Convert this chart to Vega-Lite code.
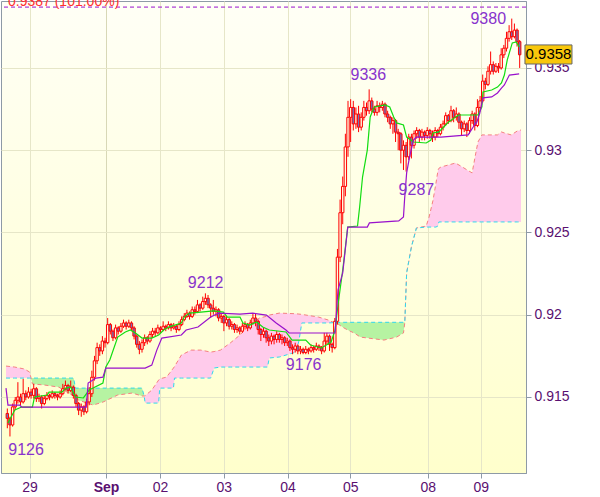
{
"$schema":"https://vega.github.io/schema/vega-lite/v6.json",
"width":525,"height":472,"autosize":"none",
"padding":{"left":1,"top":1,"right":74,"bottom":24},
"background":"#ffffff",
"config":{
"font":"Liberation Sans",
"view":{"stroke":"#8e9aa6","strokeWidth":1,"fill":{"gradient":"linear","x1":0,"y1":0,"x2":0,"y2":1,"stops":[{"offset":0,"color":"#fffff6"},{"offset":1,"color":"#ffffcc"}]}},
"axis":{"labelFont":"Liberation Sans","labelFontSize":14,"labelColor":"#5a1070","tickColor":"#8e9aa6","domainColor":"#8e9aa6","gridColor":"#e6e6c8","tickSize":5}
},
"datasets":{
"one":[{"id":1}],
"candles":[
{"t":0,"o":0.914,"h":0.9143,"l":0.9131,"c":0.9137},
{"t":1,"o":0.9137,"h":0.9138,"l":0.9126,"c":0.9133},
{"t":2,"o":0.9133,"h":0.9146,"l":0.9132,"c":0.9144},
{"t":3,"o":0.9144,"h":0.915,"l":0.9142,"c":0.9148},
{"t":4,"o":0.9148,"h":0.9159,"l":0.9146,"c":0.915},
{"t":5,"o":0.915,"h":0.9152,"l":0.9145,"c":0.9147},
{"t":6,"o":0.9147,"h":0.9161,"l":0.9146,"c":0.9152},
{"t":7,"o":0.9152,"h":0.9154,"l":0.9148,"c":0.915},
{"t":8,"o":0.915,"h":0.9156,"l":0.9149,"c":0.9153},
{"t":9,"o":0.9153,"h":0.9155,"l":0.9149,"c":0.9151},
{"t":10,"o":0.9151,"h":0.9158,"l":0.9149,"c":0.9155},
{"t":11,"o":0.9155,"h":0.9156,"l":0.9147,"c":0.9149},
{"t":12,"o":0.9149,"h":0.9152,"l":0.9147,"c":0.915},
{"t":13,"o":0.915,"h":0.9151,"l":0.9143,"c":0.9146},
{"t":14,"o":0.9146,"h":0.9151,"l":0.9145,"c":0.9149},
{"t":15,"o":0.9149,"h":0.9153,"l":0.9148,"c":0.9151},
{"t":16,"o":0.9151,"h":0.9152,"l":0.9148,"c":0.915},
{"t":17,"o":0.915,"h":0.9154,"l":0.9149,"c":0.9152},
{"t":18,"o":0.9152,"h":0.9153,"l":0.9149,"c":0.9151},
{"t":19,"o":0.9151,"h":0.9152,"l":0.9148,"c":0.915},
{"t":20,"o":0.915,"h":0.9154,"l":0.9149,"c":0.9152},
{"t":21,"o":0.9152,"h":0.9158,"l":0.9151,"c":0.9155},
{"t":22,"o":0.9155,"h":0.916,"l":0.9154,"c":0.9157},
{"t":23,"o":0.9157,"h":0.9158,"l":0.9152,"c":0.9154},
{"t":24,"o":0.9154,"h":0.916,"l":0.9153,"c":0.9156},
{"t":25,"o":0.9156,"h":0.9157,"l":0.9149,"c":0.9151},
{"t":26,"o":0.9151,"h":0.9152,"l":0.9144,"c":0.9146},
{"t":27,"o":0.9146,"h":0.9147,"l":0.9139,"c":0.9142},
{"t":28,"o":0.9142,"h":0.9146,"l":0.9138,"c":0.9144},
{"t":29,"o":0.9144,"h":0.9145,"l":0.9139,"c":0.9141},
{"t":30,"o":0.9141,"h":0.9149,"l":0.914,"c":0.9147},
{"t":31,"o":0.9147,"h":0.9156,"l":0.9145,"c":0.9152},
{"t":32,"o":0.9152,"h":0.9166,"l":0.915,"c":0.9162},
{"t":33,"o":0.9162,"h":0.9175,"l":0.916,"c":0.9172},
{"t":34,"o":0.9172,"h":0.9183,"l":0.917,"c":0.918},
{"t":35,"o":0.918,"h":0.9182,"l":0.9175,"c":0.9178},
{"t":36,"o":0.9178,"h":0.9187,"l":0.9176,"c":0.9184},
{"t":37,"o":0.9184,"h":0.9186,"l":0.918,"c":0.9183},
{"t":38,"o":0.9183,"h":0.9198,"l":0.9182,"c":0.9194},
{"t":39,"o":0.9194,"h":0.9195,"l":0.9188,"c":0.919},
{"t":40,"o":0.919,"h":0.9191,"l":0.9184,"c":0.9186},
{"t":41,"o":0.9186,"h":0.9194,"l":0.9185,"c":0.9192},
{"t":42,"o":0.9192,"h":0.9193,"l":0.9188,"c":0.919},
{"t":43,"o":0.919,"h":0.9195,"l":0.9189,"c":0.9193},
{"t":44,"o":0.9193,"h":0.9197,"l":0.9192,"c":0.9195},
{"t":45,"o":0.9195,"h":0.9196,"l":0.9191,"c":0.9193},
{"t":46,"o":0.9193,"h":0.9197,"l":0.9192,"c":0.9195},
{"t":47,"o":0.9195,"h":0.9196,"l":0.919,"c":0.9192},
{"t":48,"o":0.9192,"h":0.9193,"l":0.9185,"c":0.9187},
{"t":49,"o":0.9187,"h":0.9188,"l":0.918,"c":0.9182},
{"t":50,"o":0.9182,"h":0.9184,"l":0.9176,"c":0.9179},
{"t":51,"o":0.9179,"h":0.9185,"l":0.9177,"c":0.9183},
{"t":52,"o":0.9183,"h":0.9188,"l":0.9181,"c":0.9186},
{"t":53,"o":0.9186,"h":0.9187,"l":0.9182,"c":0.9184},
{"t":54,"o":0.9184,"h":0.919,"l":0.9183,"c":0.9188},
{"t":55,"o":0.9188,"h":0.9192,"l":0.9186,"c":0.919},
{"t":56,"o":0.919,"h":0.9192,"l":0.9187,"c":0.9189},
{"t":57,"o":0.9189,"h":0.9194,"l":0.9188,"c":0.9192},
{"t":58,"o":0.9192,"h":0.9193,"l":0.9189,"c":0.9191},
{"t":59,"o":0.9191,"h":0.9196,"l":0.919,"c":0.9193},
{"t":60,"o":0.9193,"h":0.9194,"l":0.919,"c":0.9192},
{"t":61,"o":0.9192,"h":0.9196,"l":0.9191,"c":0.9194},
{"t":62,"o":0.9194,"h":0.9195,"l":0.919,"c":0.9192},
{"t":63,"o":0.9192,"h":0.9195,"l":0.9191,"c":0.9193},
{"t":64,"o":0.9193,"h":0.9194,"l":0.9189,"c":0.9191},
{"t":65,"o":0.9191,"h":0.9196,"l":0.919,"c":0.9194},
{"t":66,"o":0.9194,"h":0.9199,"l":0.9193,"c":0.9197},
{"t":67,"o":0.9197,"h":0.9201,"l":0.9196,"c":0.9199},
{"t":68,"o":0.9199,"h":0.9203,"l":0.9198,"c":0.9201},
{"t":69,"o":0.9201,"h":0.9202,"l":0.9197,"c":0.9199},
{"t":70,"o":0.9199,"h":0.9205,"l":0.9198,"c":0.9203},
{"t":71,"o":0.9203,"h":0.9205,"l":0.92,"c":0.9202},
{"t":72,"o":0.9202,"h":0.9209,"l":0.9201,"c":0.9206},
{"t":73,"o":0.9206,"h":0.9207,"l":0.9202,"c":0.9204},
{"t":74,"o":0.9204,"h":0.9211,"l":0.9203,"c":0.9208},
{"t":75,"o":0.9208,"h":0.9213,"l":0.9206,"c":0.921},
{"t":76,"o":0.921,"h":0.9212,"l":0.9204,"c":0.9206},
{"t":77,"o":0.9206,"h":0.9207,"l":0.9198,"c":0.9204},
{"t":78,"o":0.9204,"h":0.9209,"l":0.92,"c":0.9202},
{"t":79,"o":0.9202,"h":0.9205,"l":0.9199,"c":0.9203},
{"t":80,"o":0.9203,"h":0.9204,"l":0.9196,"c":0.9198},
{"t":81,"o":0.9198,"h":0.9201,"l":0.9195,"c":0.9199},
{"t":82,"o":0.9199,"h":0.92,"l":0.919,"c":0.9195},
{"t":83,"o":0.9195,"h":0.9199,"l":0.9193,"c":0.9197},
{"t":84,"o":0.9197,"h":0.9198,"l":0.9191,"c":0.9193},
{"t":85,"o":0.9193,"h":0.9196,"l":0.9191,"c":0.9194},
{"t":86,"o":0.9194,"h":0.9195,"l":0.9189,"c":0.9191},
{"t":87,"o":0.9191,"h":0.9194,"l":0.9189,"c":0.9192},
{"t":88,"o":0.9192,"h":0.9193,"l":0.9188,"c":0.919},
{"t":89,"o":0.919,"h":0.9195,"l":0.9189,"c":0.9193},
{"t":90,"o":0.9193,"h":0.9196,"l":0.9191,"c":0.9194},
{"t":91,"o":0.9194,"h":0.9195,"l":0.919,"c":0.9192},
{"t":92,"o":0.9192,"h":0.9197,"l":0.9191,"c":0.9195},
{"t":93,"o":0.9195,"h":0.9201,"l":0.9194,"c":0.9198},
{"t":94,"o":0.9198,"h":0.9201,"l":0.9193,"c":0.9196},
{"t":95,"o":0.9196,"h":0.9197,"l":0.9188,"c":0.9191},
{"t":96,"o":0.9191,"h":0.9192,"l":0.9184,"c":0.9188},
{"t":97,"o":0.9188,"h":0.9192,"l":0.9186,"c":0.919},
{"t":98,"o":0.919,"h":0.9191,"l":0.9183,"c":0.9186},
{"t":99,"o":0.9186,"h":0.9188,"l":0.9181,"c":0.9184},
{"t":100,"o":0.9184,"h":0.9189,"l":0.9182,"c":0.9187},
{"t":101,"o":0.9187,"h":0.9188,"l":0.9182,"c":0.9185},
{"t":102,"o":0.9185,"h":0.919,"l":0.9183,"c":0.9188},
{"t":103,"o":0.9188,"h":0.9189,"l":0.9183,"c":0.9185},
{"t":104,"o":0.9185,"h":0.9188,"l":0.9182,"c":0.9186},
{"t":105,"o":0.9186,"h":0.9187,"l":0.9181,"c":0.9183},
{"t":106,"o":0.9183,"h":0.9186,"l":0.9181,"c":0.9184},
{"t":107,"o":0.9184,"h":0.9185,"l":0.9178,"c":0.918},
{"t":108,"o":0.918,"h":0.9182,"l":0.9176,"c":0.9179},
{"t":109,"o":0.9179,"h":0.9183,"l":0.9177,"c":0.9181},
{"t":110,"o":0.9181,"h":0.9182,"l":0.9176,"c":0.9178},
{"t":111,"o":0.9178,"h":0.9181,"l":0.9176,"c":0.9179},
{"t":112,"o":0.9179,"h":0.918,"l":0.9176,"c":0.9177},
{"t":113,"o":0.9177,"h":0.9181,"l":0.9176,"c":0.9179},
{"t":114,"o":0.9179,"h":0.918,"l":0.9176,"c":0.9178},
{"t":115,"o":0.9178,"h":0.9182,"l":0.9177,"c":0.918},
{"t":116,"o":0.918,"h":0.9181,"l":0.9177,"c":0.9179},
{"t":117,"o":0.9179,"h":0.9183,"l":0.9178,"c":0.9181},
{"t":118,"o":0.9181,"h":0.9182,"l":0.9178,"c":0.918},
{"t":119,"o":0.918,"h":0.9181,"l":0.9176,"c":0.9178},
{"t":120,"o":0.9178,"h":0.9189,"l":0.9177,"c":0.9184},
{"t":121,"o":0.9184,"h":0.9189,"l":0.9182,"c":0.9187},
{"t":122,"o":0.9187,"h":0.9188,"l":0.9178,"c":0.9182},
{"t":123,"o":0.9182,"h":0.9183,"l":0.9177,"c":0.918},
{"t":124,"o":0.918,"h":0.9198,"l":0.9179,"c":0.9196},
{"t":125,"o":0.9196,"h":0.924,"l":0.9194,"c":0.9235},
{"t":126,"o":0.9235,"h":0.927,"l":0.9232,"c":0.9262},
{"t":127,"o":0.9262,"h":0.9284,"l":0.9255,"c":0.9278},
{"t":128,"o":0.9278,"h":0.931,"l":0.9272,"c":0.9302},
{"t":129,"o":0.9302,"h":0.933,"l":0.9296,"c":0.932},
{"t":130,"o":0.932,"h":0.9331,"l":0.9305,"c":0.9326},
{"t":131,"o":0.9326,"h":0.933,"l":0.9312,"c":0.9316},
{"t":132,"o":0.9316,"h":0.9326,"l":0.9313,"c":0.9322},
{"t":133,"o":0.9322,"h":0.9327,"l":0.9311,"c":0.9314},
{"t":134,"o":0.9314,"h":0.9323,"l":0.9312,"c":0.932},
{"t":135,"o":0.932,"h":0.933,"l":0.9318,"c":0.9326},
{"t":136,"o":0.9326,"h":0.9329,"l":0.9321,"c":0.9324},
{"t":137,"o":0.9324,"h":0.9337,"l":0.9322,"c":0.933},
{"t":138,"o":0.933,"h":0.9332,"l":0.9323,"c":0.9325},
{"t":139,"o":0.9325,"h":0.9327,"l":0.9321,"c":0.9323},
{"t":140,"o":0.9323,"h":0.933,"l":0.9321,"c":0.9327},
{"t":141,"o":0.9327,"h":0.9329,"l":0.9323,"c":0.9326},
{"t":142,"o":0.9326,"h":0.933,"l":0.9324,"c":0.9328},
{"t":143,"o":0.9328,"h":0.9329,"l":0.932,"c":0.9322},
{"t":144,"o":0.9322,"h":0.9324,"l":0.9317,"c":0.932},
{"t":145,"o":0.932,"h":0.9321,"l":0.9313,"c":0.9316},
{"t":146,"o":0.9316,"h":0.932,"l":0.931,"c":0.9318},
{"t":147,"o":0.9318,"h":0.9319,"l":0.9305,"c":0.9311},
{"t":148,"o":0.9311,"h":0.9313,"l":0.93,"c":0.931},
{"t":149,"o":0.931,"h":0.9311,"l":0.9292,"c":0.93},
{"t":150,"o":0.93,"h":0.9306,"l":0.9288,"c":0.9303},
{"t":151,"o":0.9303,"h":0.9305,"l":0.9287,"c":0.9296},
{"t":152,"o":0.9296,"h":0.931,"l":0.9294,"c":0.9308},
{"t":153,"o":0.9308,"h":0.931,"l":0.9295,"c":0.9303},
{"t":154,"o":0.9303,"h":0.9312,"l":0.9301,"c":0.931},
{"t":155,"o":0.931,"h":0.9314,"l":0.9307,"c":0.9312},
{"t":156,"o":0.9312,"h":0.9313,"l":0.9305,"c":0.9308},
{"t":157,"o":0.9308,"h":0.9313,"l":0.9306,"c":0.9311},
{"t":158,"o":0.9311,"h":0.9312,"l":0.9306,"c":0.9309},
{"t":159,"o":0.9309,"h":0.9314,"l":0.9307,"c":0.9312},
{"t":160,"o":0.9312,"h":0.9313,"l":0.9307,"c":0.931},
{"t":161,"o":0.931,"h":0.9312,"l":0.9305,"c":0.9308},
{"t":162,"o":0.9308,"h":0.9314,"l":0.9306,"c":0.9312},
{"t":163,"o":0.9312,"h":0.9313,"l":0.9308,"c":0.931},
{"t":164,"o":0.931,"h":0.9316,"l":0.9309,"c":0.9314},
{"t":165,"o":0.9314,"h":0.9318,"l":0.9312,"c":0.9316},
{"t":166,"o":0.9316,"h":0.9323,"l":0.9315,"c":0.9321},
{"t":167,"o":0.9321,"h":0.9322,"l":0.9316,"c":0.9318},
{"t":168,"o":0.9318,"h":0.9327,"l":0.9317,"c":0.9324},
{"t":169,"o":0.9324,"h":0.9325,"l":0.9317,"c":0.932},
{"t":170,"o":0.932,"h":0.9326,"l":0.9318,"c":0.9322},
{"t":171,"o":0.9322,"h":0.9323,"l":0.9313,"c":0.9317},
{"t":172,"o":0.9317,"h":0.9318,"l":0.9309,"c":0.9313},
{"t":173,"o":0.9313,"h":0.9318,"l":0.9311,"c":0.9316},
{"t":174,"o":0.9316,"h":0.9317,"l":0.9308,"c":0.9312},
{"t":175,"o":0.9312,"h":0.932,"l":0.931,"c":0.9318},
{"t":176,"o":0.9318,"h":0.9324,"l":0.9316,"c":0.9322},
{"t":177,"o":0.9322,"h":0.9323,"l":0.9312,"c":0.9315},
{"t":178,"o":0.9315,"h":0.9331,"l":0.9314,"c":0.9326},
{"t":179,"o":0.9326,"h":0.9333,"l":0.9324,"c":0.933},
{"t":180,"o":0.933,"h":0.9346,"l":0.9329,"c":0.9342},
{"t":181,"o":0.9342,"h":0.9344,"l":0.9337,"c":0.934},
{"t":182,"o":0.934,"h":0.9351,"l":0.9339,"c":0.9348},
{"t":183,"o":0.9348,"h":0.936,"l":0.9346,"c":0.9352},
{"t":184,"o":0.9352,"h":0.9354,"l":0.9346,"c":0.9348},
{"t":185,"o":0.9348,"h":0.9353,"l":0.9347,"c":0.9351},
{"t":186,"o":0.9351,"h":0.9353,"l":0.9347,"c":0.935},
{"t":187,"o":0.935,"h":0.9362,"l":0.9349,"c":0.9358},
{"t":188,"o":0.9358,"h":0.9364,"l":0.9356,"c":0.9362},
{"t":189,"o":0.9362,"h":0.9372,"l":0.936,"c":0.9368},
{"t":190,"o":0.9368,"h":0.9376,"l":0.9366,"c":0.9372},
{"t":191,"o":0.9372,"h":0.938,"l":0.9367,"c":0.9369},
{"t":192,"o":0.9369,"h":0.9377,"l":0.9368,"c":0.9373},
{"t":193,"o":0.9373,"h":0.9374,"l":0.9363,"c":0.9366},
{"t":194,"o":0.9366,"h":0.9367,"l":0.935,"c":0.9358}
],
"cloud":[
{"t":-0.5,"a":0.91688,"b":0.91615,"seg":"p1","kind":"pink"},
{"t":2.8,"a":0.91682,"b":0.91615,"seg":"p1","kind":"pink"},
{"t":6.5,"a":0.9167,"b":0.91615,"seg":"p1","kind":"pink"},
{"t":8.4,"a":0.91652,"b":0.91615,"seg":"p1","kind":"pink"},
{"t":9.0,"a":0.91615,"b":0.91615,"seg":"p1","kind":"pink"},
{"t":9.0,"a":0.91615,"b":0.91615,"seg":"g1","kind":"green"},
{"t":9.5,"a":0.91579,"b":0.91615,"seg":"g1","kind":"green"},
{"t":14,"a":0.91573,"b":0.91615,"seg":"g1","kind":"green"},
{"t":19.5,"a":0.9156,"b":0.91615,"seg":"g1","kind":"green"},
{"t":23.2,"a":0.91524,"b":0.91615,"seg":"g1","kind":"green"},
{"t":25.1,"a":0.91506,"b":0.91615,"seg":"g1","kind":"green"},
{"t":25.8,"a":0.915,"b":0.91554,"seg":"g1","kind":"green"},
{"t":26.9,"a":0.91481,"b":0.91554,"seg":"g1","kind":"green"},
{"t":32.5,"a":0.91451,"b":0.91554,"seg":"g1","kind":"green"},
{"t":36.2,"a":0.91469,"b":0.91554,"seg":"g1","kind":"green"},
{"t":41.8,"a":0.91512,"b":0.91554,"seg":"g1","kind":"green"},
{"t":47.3,"a":0.91524,"b":0.91554,"seg":"g1","kind":"green"},
{"t":51.0,"a":0.91506,"b":0.91554,"seg":"g1","kind":"green"},
{"t":51.8,"a":0.91506,"b":0.91506,"seg":"g1","kind":"green"},
{"t":51.8,"a":0.91506,"b":0.91506,"seg":"p2","kind":"pink"},
{"t":52.2,"a":0.91508,"b":0.91463,"seg":"p2","kind":"pink"},
{"t":54.7,"a":0.91542,"b":0.91463,"seg":"p2","kind":"pink"},
{"t":57.3,"a":0.91603,"b":0.91463,"seg":"p2","kind":"pink"},
{"t":57.7,"a":0.9161,"b":0.91554,"seg":"p2","kind":"pink"},
{"t":60.3,"a":0.91621,"b":0.91554,"seg":"p2","kind":"pink"},
{"t":62.9,"a":0.91676,"b":0.91554,"seg":"p2","kind":"pink"},
{"t":63.3,"a":0.91685,"b":0.91615,"seg":"p2","kind":"pink"},
{"t":65.9,"a":0.91755,"b":0.91615,"seg":"p2","kind":"pink"},
{"t":69.6,"a":0.91785,"b":0.91615,"seg":"p2","kind":"pink"},
{"t":73.3,"a":0.91785,"b":0.91615,"seg":"p2","kind":"pink"},
{"t":77.0,"a":0.91773,"b":0.91615,"seg":"p2","kind":"pink"},
{"t":78.3,"a":0.91776,"b":0.91676,"seg":"p2","kind":"pink"},
{"t":80.7,"a":0.91785,"b":0.91682,"seg":"p2","kind":"pink"},
{"t":84.4,"a":0.91828,"b":0.91682,"seg":"p2","kind":"pink"},
{"t":88.1,"a":0.91877,"b":0.91682,"seg":"p2","kind":"pink"},
{"t":91.8,"a":0.91937,"b":0.91682,"seg":"p2","kind":"pink"},
{"t":95.5,"a":0.9198,"b":0.91682,"seg":"p2","kind":"pink"},
{"t":98.5,"a":0.91992,"b":0.91682,"seg":"p2","kind":"pink"},
{"t":99.2,"a":0.91998,"b":0.91737,"seg":"p2","kind":"pink"},
{"t":103.0,"a":0.9201,"b":0.91743,"seg":"p2","kind":"pink"},
{"t":109.3,"a":0.92006,"b":0.91773,"seg":"p2","kind":"pink"},
{"t":110.4,"a":0.92004,"b":0.9184,"seg":"p2","kind":"pink"},
{"t":111.5,"a":0.92002,"b":0.9195,"seg":"p2","kind":"pink"},
{"t":117.8,"a":0.91986,"b":0.9195,"seg":"p2","kind":"pink"},
{"t":121.5,"a":0.91968,"b":0.9195,"seg":"p2","kind":"pink"},
{"t":123.7,"a":0.91952,"b":0.91952,"seg":"p2","kind":"pink"},
{"t":123.7,"a":0.91952,"b":0.91952,"seg":"g2","kind":"green"},
{"t":125.2,"a":0.91944,"b":0.91954,"seg":"g2","kind":"green"},
{"t":126.9,"a":0.91925,"b":0.91954,"seg":"g2","kind":"green"},
{"t":128.9,"a":0.91907,"b":0.91954,"seg":"g2","kind":"green"},
{"t":131.3,"a":0.91889,"b":0.91954,"seg":"g2","kind":"green"},
{"t":133.7,"a":0.91864,"b":0.91954,"seg":"g2","kind":"green"},
{"t":142.6,"a":0.91846,"b":0.91954,"seg":"g2","kind":"green"},
{"t":147.4,"a":0.91864,"b":0.91954,"seg":"g2","kind":"green"},
{"t":150.0,"a":0.91889,"b":0.91954,"seg":"g2","kind":"green"},
{"t":150.5,"a":0.91953,"b":0.91953,"seg":"g2","kind":"green"},
{"t":150.5,"a":0.91953,"b":0.91953,"seg":"p3","kind":"pink"},
{"t":151.2,"a":0.92254,"b":0.92254,"seg":"p3","kind":"pink"},
{"t":153.0,"a":0.92412,"b":0.92412,"seg":"p3","kind":"pink"},
{"t":154.9,"a":0.92527,"b":0.92527,"seg":"p3","kind":"pink"},
{"t":158.6,"a":0.92539,"b":0.92533,"seg":"p3","kind":"pink"},
{"t":159.7,"a":0.92594,"b":0.92533,"seg":"p3","kind":"pink"},
{"t":161.2,"a":0.92697,"b":0.92533,"seg":"p3","kind":"pink"},
{"t":162.3,"a":0.928,"b":0.92533,"seg":"p3","kind":"pink"},
{"t":163.1,"a":0.9288,"b":0.9254,"seg":"p3","kind":"pink"},
{"t":163.4,"a":0.9289,"b":0.92564,"seg":"p3","kind":"pink"},
{"t":164.2,"a":0.92898,"b":0.92564,"seg":"p3","kind":"pink"},
{"t":169.7,"a":0.92922,"b":0.92564,"seg":"p3","kind":"pink"},
{"t":172.3,"a":0.92898,"b":0.92564,"seg":"p3","kind":"pink"},
{"t":174.1,"a":0.9288,"b":0.92564,"seg":"p3","kind":"pink"},
{"t":176.0,"a":0.92862,"b":0.92564,"seg":"p3","kind":"pink"},
{"t":177.1,"a":0.92959,"b":0.92564,"seg":"p3","kind":"pink"},
{"t":178.2,"a":0.9305,"b":0.92564,"seg":"p3","kind":"pink"},
{"t":179.7,"a":0.93093,"b":0.92564,"seg":"p3","kind":"pink"},
{"t":185.6,"a":0.93093,"b":0.92564,"seg":"p3","kind":"pink"},
{"t":187.1,"a":0.93111,"b":0.92564,"seg":"p3","kind":"pink"},
{"t":188.2,"a":0.93105,"b":0.92564,"seg":"p3","kind":"pink"},
{"t":190.8,"a":0.93093,"b":0.92564,"seg":"p3","kind":"pink"},
{"t":193.1,"a":0.93117,"b":0.92564,"seg":"p3","kind":"pink"},
{"t":194.5,"a":0.93123,"b":0.92564,"seg":"p3","kind":"pink"}
],
"lines":[
{"k":"tenkan","t":0.24,"v":0.91342},{"k":"tenkan","t":2.84,"v":0.91421},{"k":"tenkan","t":5.4,"v":0.91439},{"k":"tenkan","t":9.5,"v":0.91439},{"k":"tenkan","t":10.3,"v":0.915},{"k":"tenkan","t":15.1,"v":0.91512},{"k":"tenkan","t":15.8,"v":0.9153},{"k":"tenkan","t":20.7,"v":0.9153},{"k":"tenkan","t":22.1,"v":0.91554},{"k":"tenkan","t":24.0,"v":0.9156},{"k":"tenkan","t":25.8,"v":0.915},{"k":"tenkan","t":28.8,"v":0.91494},{"k":"tenkan","t":31.0,"v":0.91542},{"k":"tenkan","t":36.2,"v":0.91585},{"k":"tenkan","t":37.3,"v":0.91682},{"k":"tenkan","t":38.8,"v":0.91725},{"k":"tenkan","t":41.8,"v":0.91864},{"k":"tenkan","t":44.7,"v":0.91895},{"k":"tenkan","t":46.6,"v":0.91907},{"k":"tenkan","t":48.5,"v":0.91889},{"k":"tenkan","t":51.0,"v":0.91858},{"k":"tenkan","t":54.7,"v":0.91858},{"k":"tenkan","t":57.3,"v":0.91877},{"k":"tenkan","t":59.2,"v":0.91907},{"k":"tenkan","t":61.1,"v":0.91925},{"k":"tenkan","t":65.9,"v":0.9195},{"k":"tenkan","t":67.0,"v":0.91986},{"k":"tenkan","t":68.9,"v":0.9201},{"k":"tenkan","t":73.3,"v":0.92016},{"k":"tenkan","t":78.1,"v":0.92023},{"k":"tenkan","t":81.8,"v":0.92016},{"k":"tenkan","t":83.3,"v":0.91986},{"k":"tenkan","t":88.1,"v":0.91986},{"k":"tenkan","t":89.2,"v":0.9195},{"k":"tenkan","t":91.8,"v":0.91937},{"k":"tenkan","t":94.4,"v":0.91956},{"k":"tenkan","t":96.7,"v":0.91925},{"k":"tenkan","t":99.2,"v":0.91907},{"k":"tenkan","t":105.5,"v":0.91895},{"k":"tenkan","t":107.8,"v":0.91846},{"k":"tenkan","t":113.0,"v":0.91846},{"k":"tenkan","t":114.8,"v":0.91816},{"k":"tenkan","t":118.9,"v":0.91798},{"k":"tenkan","t":120.8,"v":0.91816},{"k":"tenkan","t":122.6,"v":0.91834},{"k":"tenkan","t":124.1,"v":0.91907},{"k":"tenkan","t":125.2,"v":0.92059},{"k":"tenkan","t":127.0,"v":0.92272},{"k":"tenkan","t":128.9,"v":0.92533},{"k":"tenkan","t":132.6,"v":0.92539},{"k":"tenkan","t":133.4,"v":0.92655},{"k":"tenkan","t":134.5,"v":0.92837},{"k":"tenkan","t":136.3,"v":0.93001},{"k":"tenkan","t":137.4,"v":0.93202},{"k":"tenkan","t":138.9,"v":0.93263},{"k":"tenkan","t":143.0,"v":0.93275},{"k":"tenkan","t":144.8,"v":0.93263},{"k":"tenkan","t":146.3,"v":0.93202},{"k":"tenkan","t":147.4,"v":0.93166},{"k":"tenkan","t":150.0,"v":0.93153},{"k":"tenkan","t":151.2,"v":0.9308},{"k":"tenkan","t":153.8,"v":0.9305},{"k":"tenkan","t":158.6,"v":0.93044},{"k":"tenkan","t":160.4,"v":0.93062},{"k":"tenkan","t":161.2,"v":0.93105},{"k":"tenkan","t":163.4,"v":0.93111},{"k":"tenkan","t":164.9,"v":0.93135},{"k":"tenkan","t":167.1,"v":0.93172},{"k":"tenkan","t":170.8,"v":0.93214},{"k":"tenkan","t":178.2,"v":0.93214},{"k":"tenkan","t":179.7,"v":0.93263},{"k":"tenkan","t":180.1,"v":0.93354},{"k":"tenkan","t":183.4,"v":0.93366},{"k":"tenkan","t":185.6,"v":0.93384},{"k":"tenkan","t":187.1,"v":0.93409},{"k":"tenkan","t":188.2,"v":0.93457},{"k":"tenkan","t":189.3,"v":0.93549},{"k":"tenkan","t":191.2,"v":0.93652},{"k":"tenkan","t":192.7,"v":0.93658},{"k":"tenkan","t":193.8,"v":0.93628},
{"k":"kijun","t":-0.5,"v":0.91554},{"k":"kijun","t":0.24,"v":0.91451},{"k":"kijun","t":4.7,"v":0.91451},{"k":"kijun","t":5.4,"v":0.91439},{"k":"kijun","t":29.9,"v":0.91439},{"k":"kijun","t":30.6,"v":0.91585},{"k":"kijun","t":33.6,"v":0.91615},{"k":"kijun","t":36.2,"v":0.91621},{"k":"kijun","t":37.3,"v":0.91676},{"k":"kijun","t":52.2,"v":0.91676},{"k":"kijun","t":54.7,"v":0.91694},{"k":"kijun","t":56.6,"v":0.91785},{"k":"kijun","t":58.5,"v":0.91858},{"k":"kijun","t":65.9,"v":0.91877},{"k":"kijun","t":67.7,"v":0.91907},{"k":"kijun","t":72.2,"v":0.91925},{"k":"kijun","t":77.0,"v":0.91986},{"k":"kijun","t":80.0,"v":0.9201},{"k":"kijun","t":88.1,"v":0.92004},{"k":"kijun","t":92.9,"v":0.9201},{"k":"kijun","t":98.1,"v":0.91998},{"k":"kijun","t":101.8,"v":0.9195},{"k":"kijun","t":105.5,"v":0.91907},{"k":"kijun","t":106.7,"v":0.91889},{"k":"kijun","t":124.1,"v":0.91889},{"k":"kijun","t":125.2,"v":0.9215},{"k":"kijun","t":127.0,"v":0.92254},{"k":"kijun","t":128.9,"v":0.92533},{"k":"kijun","t":136.3,"v":0.92533},{"k":"kijun","t":137.1,"v":0.92558},{"k":"kijun","t":148.2,"v":0.9257},{"k":"kijun","t":150.0,"v":0.92594},{"k":"kijun","t":150.4,"v":0.92697},{"k":"kijun","t":151.2,"v":0.92862},{"k":"kijun","t":152.3,"v":0.92959},{"k":"kijun","t":153.8,"v":0.93062},{"k":"kijun","t":154.9,"v":0.9308},{"k":"kijun","t":164.2,"v":0.9308},{"k":"kijun","t":174.5,"v":0.93093},{"k":"kijun","t":176.4,"v":0.93141},{"k":"kijun","t":177.8,"v":0.93172},{"k":"kijun","t":178.9,"v":0.93226},{"k":"kijun","t":180.1,"v":0.93318},{"k":"kijun","t":183.4,"v":0.93324},{"k":"kijun","t":185.6,"v":0.93348},{"k":"kijun","t":187.1,"v":0.93378},{"k":"kijun","t":188.2,"v":0.93397},{"k":"kijun","t":190.1,"v":0.93457},{"k":"kijun","t":193.8,"v":0.93464}
],
"labels":[
{"t":7.1,"p":0.91147,"txt":"9126"},
{"t":75.1,"p":0.92162,"txt":"9212"},
{"t":112.2,"p":0.91664,"txt":"9176"},
{"t":136.7,"p":0.93427,"txt":"9336"},
{"t":154.9,"p":0.92728,"txt":"9287"},
{"t":182.1,"p":0.93768,"txt":"9380"}
]
},
"layer":[
{"data":{"name":"cloud"},
"mark":{"type":"area","opacity":1},
"encoding":{
"x":{"field":"t","type":"quantitative","title":null,"scale":{"domain":[-0.5,194.5],"nice":false,"zero":false},
"axis":{"values":[8.41,37.39,57.81,81.96,106.1,129.87,159.21,179.27],"labelExpr":"datum.value < 20 ? '29' : datum.value < 45 ? 'Sep' : datum.value < 70 ? '02' : datum.value < 95 ? '03' : datum.value < 118 ? '04' : datum.value < 145 ? '05' : datum.value < 170 ? '08' : '09'","grid":true,"labelPadding":2,"labelFlush":false,"labelFontWeight":{"condition":{"test":"datum.value > 30 && datum.value < 45","value":"bold"},"value":"normal"},"gridColor":{"condition":{"test":"datum.value > 30 && datum.value < 45","value":"#d8d8b6"},"value":"#e6e6c8"}}},
"y":{"field":"a","type":"quantitative","title":null,"scale":{"domain":[0.91038,0.93907],"nice":false,"zero":false},
"axis":{"orient":"right","values":[0.915,0.92,0.925,0.93,0.935],"format":".3~f","grid":true,"labelPadding":3}},
"y2":{"field":"b"},
"detail":{"field":"seg"},
"fill":{"field":"kind","type":"nominal","scale":{"domain":["pink","green"],"range":["#ffcbeb","#b6f3a2"]},"legend":null}
}},
{"data":{"name":"cloud"},
"mark":{"type":"line","stroke":"#f58080","strokeWidth":1,"strokeDash":[4,3]},
"encoding":{"x":{"field":"t","type":"quantitative","title":null},"y":{"field":"a","type":"quantitative","title":null}}},
{"data":{"name":"cloud"},
"mark":{"type":"line","stroke":"#30d8ee","strokeWidth":1,"strokeDash":[4,3]},
"encoding":{"x":{"field":"t","type":"quantitative","title":null},"y":{"field":"b","type":"quantitative","title":null}}},
{"data":{"name":"one"},
"mark":{"type":"rule","stroke":"#9911cc","strokeWidth":1,"strokeDash":[4,3]},
"encoding":{"y":{"datum":0.9387,"type":"quantitative"}}},
{"data":{"name":"one"},
"mark":{"type":"text","align":"left","baseline":"alphabetic","dx":2,"dy":-1,"fontSize":14,"color":"#ff3030","text":"0.9387 (101.00%)"},
"encoding":{"x":{"datum":-0.5,"type":"quantitative"},"y":{"datum":0.9387,"type":"quantitative"}}},
{"data":{"name":"candles"},
"mark":{"type":"rule","stroke":"#ff0000","strokeWidth":1},
"encoding":{"x":{"field":"t","type":"quantitative","title":null},"y":{"field":"l","type":"quantitative","title":null},"y2":{"field":"h"}}},
{"data":{"name":"candles"},
"mark":{"type":"bar","size":2.4,"stroke":"#ff0000","strokeWidth":1},
"encoding":{"x":{"field":"t","type":"quantitative","title":null},"y":{"field":"o","type":"quantitative","title":null},"y2":{"field":"c"},
"fill":{"condition":{"test":"datum.c < datum.o","value":"#7272b8"},"value":"#fffbe0"}}},
{"data":{"name":"lines"},
"mark":{"type":"line","strokeWidth":1.2},
"encoding":{"x":{"field":"t","type":"quantitative","title":null},"y":{"field":"v","type":"quantitative","title":null},
"stroke":{"field":"k","type":"nominal","scale":{"domain":["tenkan","kijun"],"range":["#11dd11","#9911cc"]},"legend":null}}},
{"data":{"name":"labels"},
"mark":{"type":"text","align":"center","baseline":"alphabetic","fontSize":16,"color":"#8833cc"},
"encoding":{"x":{"field":"t","type":"quantitative","title":null},"y":{"field":"p","type":"quantitative","title":null},"text":{"field":"txt"}}},
{"data":{"name":"one"},
"mark":{"type":"rect","fill":"#f8c70c","stroke":"#666666","strokeWidth":1},
"encoding":{"x":{"datum":196.0,"type":"quantitative"},"x2":{"datum":213.8},"y":{"datum":0.9364,"type":"quantitative"},"y2":{"datum":0.93524}}},
{"data":{"name":"one"},
"mark":{"type":"text","align":"center","baseline":"middle","fontSize":15,"color":"#000000","text":"0.9358"},
"encoding":{"x":{"datum":204.9,"type":"quantitative"},"y":{"datum":0.93582,"type":"quantitative"}}}
]
}
